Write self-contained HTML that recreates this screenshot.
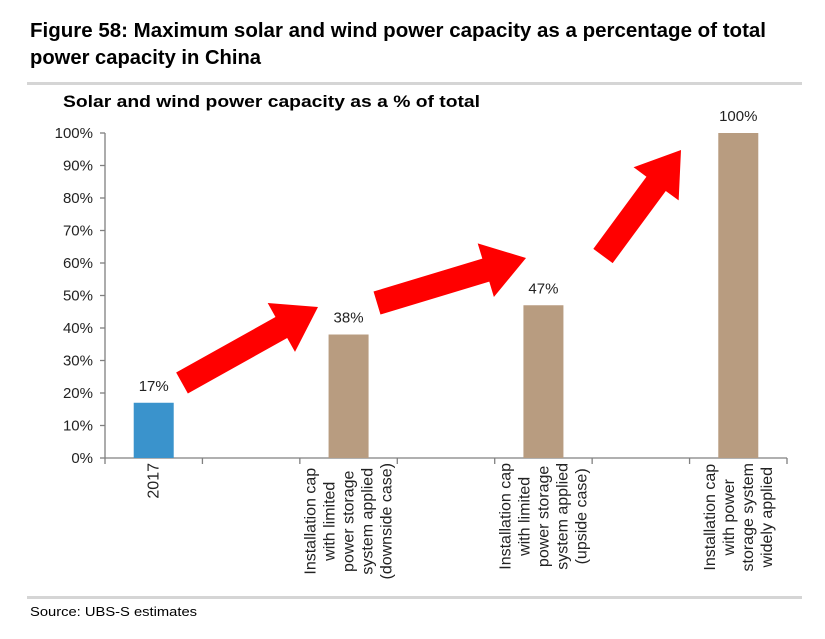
<!DOCTYPE html>
<html><head><meta charset="utf-8"><style>
body{margin:0;background:#fff;font-family:"Liberation Sans",sans-serif;}
svg text{font-family:"Liberation Sans",sans-serif;}
</style></head><body>
<svg width="825" height="634" viewBox="0 0 825 634">
<text x="30" y="37" font-size="20" font-weight="bold" fill="#000" textLength="736" lengthAdjust="spacingAndGlyphs">Figure 58: Maximum solar and wind power capacity as a percentage of total</text>
<text x="30" y="64" font-size="20" font-weight="bold" fill="#000" textLength="231" lengthAdjust="spacingAndGlyphs">power capacity in China</text>
<rect x="27" y="82" width="775" height="3" fill="#d5d5d5"/>
<text x="63" y="107" font-size="17" font-weight="bold" fill="#000" textLength="417" lengthAdjust="spacingAndGlyphs">Solar and wind power capacity as a % of total</text>
<g id="axes"></g>
<g id="marks"></g>
<rect x="27" y="596" width="775" height="3" fill="#d5d5d5"/>
<text x="30" y="616" font-size="13" fill="#000" textLength="167" lengthAdjust="spacingAndGlyphs">Source:  UBS-S estimates</text>
</svg>
<script>
const categories=["2017","","Installation cap|with limited|power storage|system applied|(downside case)","","Installation cap|with limited|power storage|system applied|(upside case)","","Installation cap|with power|storage system|widely applied"];
const values=[17,null,38,null,47,null,100];
const yTicks=[0,10,20,30,40,50,60,70,80,90,100];
const ns="http://www.w3.org/2000/svg";
const X0=105,X1=787,Y0=458,Y1=133;
const slot=(X1-X0)/categories.length;
const y=v=>Y0-(v/100)*(Y0-Y1);
const xc=i=>X0+slot*(i+0.5);
function mk(tag,attrs,parent){const e=document.createElementNS(ns,tag);for(const k in attrs)e.setAttribute(k,attrs[k]);parent.appendChild(e);return e;}
const ctx=document.createElement('canvas').getContext('2d');
ctx.font='16px "Liberation Sans", sans-serif';
const ax=document.getElementById('axes'),mg=document.getElementById('marks');
let l=mk('line',{x1:X0,y1:Y1,x2:X0,y2:Y0,stroke:'#808080','stroke-width':1.3},ax);


l=mk('line',{x1:X0,y1:Y0,x2:X1,y2:Y0,stroke:'#808080','stroke-width':1.3},ax);


yTicks.forEach(t=>{
 const tk=mk('line',{x1:X0-5,y1:y(t),x2:X0,y2:y(t),stroke:'#808080','stroke-width':1.3},ax);
 
 
 const tx=mk('text',{x:X0-12,y:y(t)+5,'font-size':15,'text-anchor':'end',fill:'#222'},ax);
 tx.textContent=t+'%';
 
 
});
for(let i=0;i<=categories.length;i++){
 const tk=mk('line',{x1:X0+slot*i,y1:Y0,x2:X0+slot*i,y2:Y0+6,stroke:'#808080','stroke-width':1.3},ax);
 
 
}
categories.forEach((c,i)=>{
 if(!c)return;
 const lines=c.split('|');
 const ws=lines.map(s=>ctx.measureText(s).width||s.length*7.6);
 const maxw=Math.max(...ws);
 lines.forEach((ln,j)=>{
  const sx=xc(i)+(j-(lines.length-1)/2)*19+5;
  const top=Y0+5+(maxw-ws[j])/2;
  const tx=mk('text',{x:0,y:0,transform:`translate(${sx},${top+ws[j]}) rotate(-90)`,'font-size':16,fill:'#222'},ax);
  tx.textContent=ln;
  
  
 });
});
values.forEach((v,i)=>{
 if(v==null)return;
 const r=mk('rect',{x:xc(i)-20,y:y(v),width:40,height:Y0-y(v),fill:i===0?'#3a93cc':'#b89c80'},mg);
 
 
 const tx=mk('text',{x:xc(i),y:y(v)-12,'font-size':15,'text-anchor':'middle',fill:'#222'},mg);
 tx.textContent=v+'%';
 
 
});
function arrow(tx,ty,hx,hy){
 const dx=hx-tx,dy=hy-ty,L=Math.hypot(dx,dy),ux=dx/L,uy=dy/L,px=-uy,py=ux;
 const sw=12,hw=28,hl=42;
 const bx=hx-ux*hl,by=hy-uy*hl;
 const pts=[[tx+px*sw,ty+py*sw],[bx+px*sw,by+py*sw],[bx+px*hw,by+py*hw],[hx,hy],[bx-px*hw,by-py*hw],[bx-px*sw,by-py*sw],[tx-px*sw,ty-py*sw]];
 return pts.map(p=>p.join(',')).join(' ');
}
let a=mk('polygon',{points:arrow(182,383,318,307),fill:'#ff0000'},mg);


a=mk('polygon',{points:arrow(377,303,526,258),fill:'#ff0000'},mg);


a=mk('polygon',{points:arrow(603,256,681,150),fill:'#ff0000'},mg);


</script>
</body></html>
